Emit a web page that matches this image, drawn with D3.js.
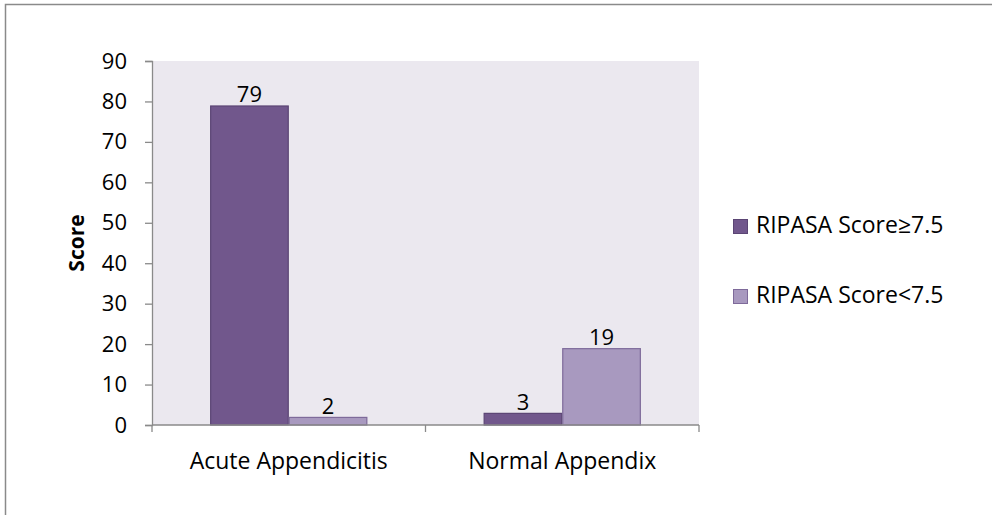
<!DOCTYPE html>
<html>
<head>
<meta charset="utf-8">
<script src="https://cdn.jsdelivr.net/npm/d3@7/dist/d3.min.js"></script>
<style>
  html, body { margin: 0; padding: 0; background: #ffffff; }
  svg { display: block; }
  text { font-family: "Open Sans", "Noto Sans", "Liberation Sans", sans-serif; fill: #000; }
</style>
</head>
<body>
<svg id="chart" width="992" height="515"></svg>
<script>
// Outcome groups and the two RIPASA score bands
const categories = ["Acute Appendicitis", "Normal Appendix"];
const seriesNames = ["RIPASA Score\u22657.5", "RIPASA Score<7.5"];
const scoreHigh = [79, 3];
const scoreLow = [2, 19];
const yTicks = [0, 10, 20, 30, 40, 50, 60, 70, 80, 90];

const seriesValues = [scoreHigh, scoreLow];
const fills = ["#71578c", "#a899bf"];
const strokes = ["#5b4574", "#7e6a9a"];
const axisGrey = "#8a8a8a";

const svg = d3.select("#chart");

// outer chart frame
svg.append("rect")
  .attr("x", 5.5).attr("y", 4.5)
  .attr("width", 1000).attr("height", 520)
  .attr("fill", "none").attr("stroke", axisGrey).attr("stroke-width", 1.5);

const plot = { left: 152, right: 699, top: 61, bottom: 425 };

const x = d3.scaleBand().domain(categories).range([plot.left, plot.right]);
const inner = d3.scaleBand().domain(d3.range(seriesNames.length))
  .range([0, x.bandwidth()]).paddingOuter(0.74).paddingInner(0);
const y = d3.scaleLinear().domain([0, 90]).range([plot.bottom, plot.top]);

// plot background
svg.append("rect")
  .attr("x", plot.left).attr("y", plot.top)
  .attr("width", plot.right - plot.left).attr("height", plot.bottom - plot.top)
  .attr("fill", "#ebe8ef");

// bars
const groups = svg.append("g").selectAll("g")
  .data(categories).join("g")
  .attr("transform", c => `translate(${x(c)},0)`);

const cells = (c, ci) => seriesValues.map((vals, si) => ({ si, v: vals[ci] }));

groups.selectAll("rect")
  .data(cells)
  .join("rect")
  .attr("x", d => inner(d.si) + 0.5)
  .attr("y", d => y(d.v) + 0.5)
  .attr("width", inner.bandwidth() - 1)
  .attr("height", d => y(0) - y(d.v) - 0.5)
  .attr("fill", d => fills[d.si])
  .attr("stroke", d => strokes[d.si])
  .attr("stroke-width", 1.2);

// value labels
groups.selectAll("text.val")
  .data(cells)
  .join("text")
  .attr("class", "val")
  .attr("x", d => inner(d.si) + inner.bandwidth() / 2)
  .attr("y", d => y(d.v) - 3)
  .attr("text-anchor", "middle")
  .style("font-size", "22px")
  .text(d => d.v);

// y axis
const yAxis = svg.append("g")
  .attr("transform", `translate(${plot.left},0)`)
  .call(d3.axisLeft(y).tickValues(yTicks).tickSize(7).tickPadding(18));
yAxis.select(".domain").attr("stroke", axisGrey).attr("stroke-width", 1.3);
yAxis.selectAll(".tick line").attr("stroke", axisGrey).attr("stroke-width", 1.3);
yAxis.selectAll(".tick text")
  .style("font-size", "22px")
  .style("font-family", "'Open Sans', sans-serif")
  .attr("fill", "#000");

// x axis line with ticks at category boundaries
const xAxisG = svg.append("g");
xAxisG.append("line")
  .attr("x1", plot.left).attr("x2", plot.right)
  .attr("y1", plot.bottom).attr("y2", plot.bottom)
  .attr("stroke", axisGrey).attr("stroke-width", 1.3);
const boundaries = [x(categories[0]), x(categories[1]), x(categories[1]) + x.bandwidth()];
xAxisG.selectAll("line.tick")
  .data(boundaries).join("line")
  .attr("class", "tick")
  .attr("x1", d => d).attr("x2", d => d)
  .attr("y1", plot.bottom).attr("y2", plot.bottom + 7)
  .attr("stroke", axisGrey).attr("stroke-width", 1.3);
xAxisG.selectAll("text")
  .data(categories).join("text")
  .attr("x", c => x(c) + x.bandwidth() / 2)
  .attr("y", 469)
  .attr("text-anchor", "middle")
  .style("font-size", "23px")
  .text(c => c);

// y axis title
svg.append("text")
  .attr("transform", `translate(84,${(plot.top + plot.bottom) / 2}) rotate(-90)`)
  .attr("text-anchor", "middle")
  .style("font-size", "21px")
  .style("font-weight", "bold")
  .text("Score");

// legend
const legend = svg.append("g").selectAll("g")
  .data(seriesNames).join("g")
  .attr("transform", (d, i) => `translate(733,${219 + i * 70})`);
legend.append("rect")
  .attr("x", 0.5).attr("y", 0.5)
  .attr("width", 14).attr("height", 14)
  .attr("fill", (d, i) => fills[i])
  .attr("stroke", (d, i) => strokes[i]);
legend.append("text")
  .attr("x", 23).attr("y", 14)
  .style("font-size", "23px")
  .text(d => d);
</script>
</body>
</html>
